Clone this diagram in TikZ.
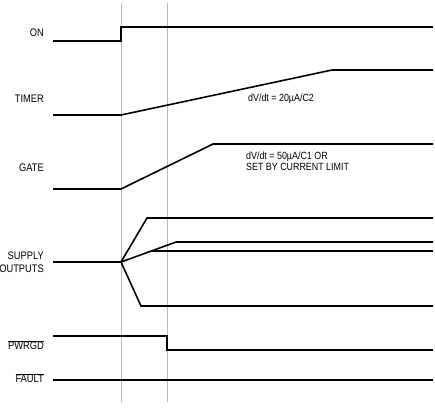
\documentclass[tikz,border=0pt]{standalone}
\usepackage{fontspec}
\setmainfont[FakeStretch=0.85]{Liberation Sans}
\usetikzlibrary{positioning}

\begin{document}
\begin{tikzpicture}[x=1bp,y=-1bp,
    signal/.style={line width=1.6bp,line join=miter},
    marker/.style={draw=gray!55,line width=0.9bp},
    lbl/.style={anchor=east,inner sep=0pt,align=right,font=\fontsize{11}{12.5}\selectfont},
    note/.style={anchor=west,inner sep=0pt,align=left,font=\fontsize{10.5}{11.5}\selectfont}]

    \useasboundingbox (0,0) rectangle (435,409);

    % time markers
    \draw[marker] (121,3) -- (121,402);
    \draw[marker] (167,3) -- (167,402);

    % ON
    \node[lbl] (on) at (44,33) {ON};
    \draw[signal] (53,41) -- (121,41) -- (121,27) -- (433,27);

    % TIMER
    \node[lbl] (timer) at (44,99) {TIMER};
    \draw[signal] (53,115) -- (121,115) -- (332,70) -- (433,70);
    \node[note] (timerslope) at (248,99) {dV/dt = 20µA/C2};

    % GATE
    \node[lbl] (gate) at (44,168) {GATE};
    \draw[signal] (53,189) -- (121,189) -- (213,144) -- (433,144);
    \node[note] (gateslope) at (246,161.5) {dV/dt = 50µA/C1 OR\\SET BY CURRENT LIMIT};

    % SUPPLY OUTPUTS
    \node[lbl] (supply) at (44,262) {SUPPLY\\OUTPUTS};
    \coordinate (fan) at (121,262);
    \draw[signal] (53,262) -- (fan);
    \draw[signal] (fan) -- (147,218) -- (433,218);
    \draw[signal] (fan) -- (176,242) -- (433,242);
    \draw[signal] (151,251) -- (433,251);
    \draw[signal] (fan) -- (141,306) -- (433,306);

    % PWRGD
    \node[lbl] (pwrgd) at (44,345) {$\overline{\mbox{PWRGD}}$};
    \draw[signal] (53,336) -- (167,336) -- (167,350) -- (433,350);

    % FAULT
    \node[lbl] (fault) at (44,378) {$\overline{\mbox{FAULT}}$};
    \draw[signal] (53,380) -- (433,380);
\end{tikzpicture}
\end{document}
